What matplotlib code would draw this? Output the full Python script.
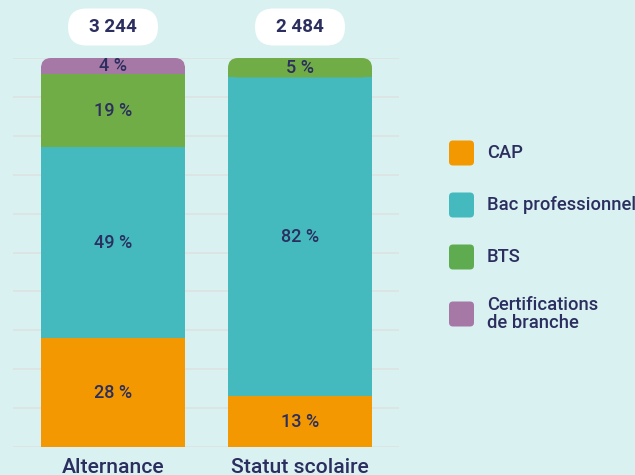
import matplotlib
matplotlib.use("Agg")
import matplotlib.pyplot as plt
from matplotlib.patches import FancyBboxPatch, Rectangle
from matplotlib.transforms import IdentityTransform

# ---- data ----
categories = ["Alternance", "Statut scolaire"]
totals = ["3 244", "2 484"]
series_names = ["CAP", "Bac professionnel", "BTS", "Certifications\nde branche"]
cap = [28, 13]
bac = [49, 82]
bts = [19, 5]
cert = [4, 0]
series_values = [cap, bac, bts, cert]

colors = ["#f39800", "#44babf", "#71ad47", "#a678a6"]
legend_colors = ["#f39800", "#44babf", "#5fac50", "#a678a6"]
BG = "#d9f1f1"
NAVY = "#2b2e5e"
GRID = "#dde3e3"
FONT = ["Roboto", "DejaVu Sans"]

W, H = 635, 475
fig = plt.figure(figsize=(W / 100, H / 100), dpi=100)
fig.patch.set_facecolor(BG)

ax_l, ax_r, ax_t, ax_b = 13, 399, 58, 447
ax = fig.add_axes([ax_l / W, 1 - ax_b / H, (ax_r - ax_l) / W, (ax_b - ax_t) / H])
ax.set_facecolor("none")
for s in ax.spines.values():
    s.set_visible(False)
ax.set_xticks([])
ax.set_yticks([])

unit = 187.0
xpos = list(range(len(categories)))
ax.set_xlim(-(113 - ax_l) / unit, 1 + (ax_r - 300) / unit)
ax.set_ylim(0, 100)
bar_w = 144 / unit

for g in range(0, 101, 10):
    ax.axhline(g, color=GRID, lw=1.3, zorder=0)

px_per_y = (ax_b - ax_t) / 100.0
r_px = 10
r_x = r_px / unit
aspect = (r_px / px_per_y) / r_x

for i, x in enumerate(xpos):
    bottom = 0
    vals = [sv[i] for sv in series_values]
    top_idx = max(k for k, v in enumerate(vals) if v > 0)
    for k, v in enumerate(vals):
        if v <= 0:
            continue
        if k == top_idx:
            p = FancyBboxPatch((x - bar_w / 2, bottom), bar_w, v,
                               boxstyle=f"round,pad=0,rounding_size={r_x}",
                               mutation_aspect=aspect, fc=colors[k], ec="none", zorder=2)
            ax.add_patch(p)
            ax.add_patch(Rectangle((x - bar_w / 2, bottom), bar_w, v / 2,
                                   fc=colors[k], ec="none", zorder=2))
        else:
            ax.bar(x, v, bottom=bottom, width=bar_w, color=colors[k], zorder=2, linewidth=0)
        ax.text(x, bottom + v / 2, f"{v} %", ha="center", va="center", fontsize=13,
                color=NAVY, fontweight="medium", family=FONT, zorder=3)
        bottom += v
    ax.annotate(categories[i], xy=(x, 0), xycoords="data", xytext=(0, -8),
                textcoords="offset points", ha="center", va="top", fontsize=15.2,
                color=NAVY, fontweight="medium", family=FONT, annotation_clip=False)

fig.canvas.draw()
for i, x in enumerate(xpos):
    cx = ax.transData.transform((x, 0))[0]
    pw, ph = 90, 37
    cy = H - 27
    pill = FancyBboxPatch((cx - pw / 2, cy - ph / 2), pw, ph,
                          boxstyle=f"round,pad=0,rounding_size={ph / 2}",
                          fc="white", ec="none", transform=IdentityTransform())
    fig.add_artist(pill)
    fig.text(cx / W, cy / H, totals[i], ha="center", va="center", fontsize=13.5,
             color=NAVY, fontweight="bold", family=FONT)

leg_y = [153, 205, 257, 314]
for k, name in enumerate(series_names):
    cy = H - leg_y[k]
    sq = FancyBboxPatch((449, cy - 12.5), 25, 25, boxstyle="round,pad=0,rounding_size=4",
                        fc=legend_colors[k], ec="none", transform=IdentityTransform())
    fig.add_artist(sq)
    fig.text(487 / W, cy / H, name, ha="left", va="center", fontsize=13.2,
             color=NAVY, fontweight="medium", family=FONT, linespacing=0.95)

fig.savefig("out.png", dpi=100, facecolor=BG)
